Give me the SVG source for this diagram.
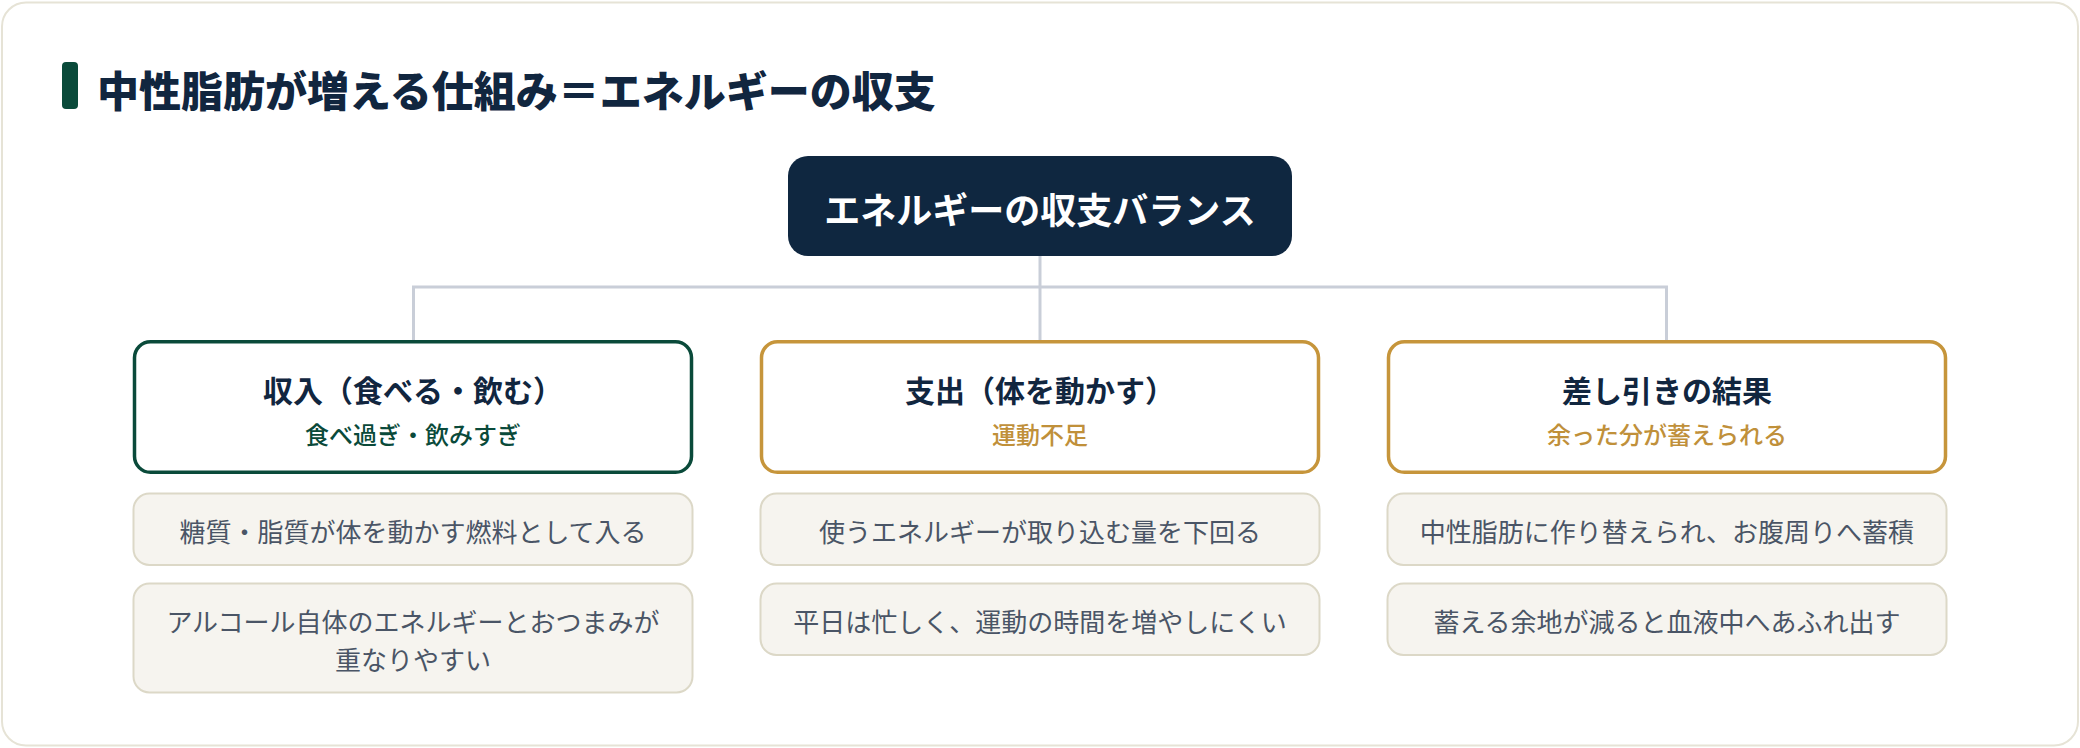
<svg xmlns="http://www.w3.org/2000/svg" width="2080" height="748" viewBox="0 0 2080 748">
  <style>
    text { font-family: "Noto Sans CJK JP", "Noto Sans", sans-serif; dominant-baseline: central; text-anchor: middle; }
    .title { font-size: 42px; font-weight: 900; fill: #11263f; text-anchor: start; }
    .root-box { fill: #0f2740; }
    .root-text { font-size: 36px; font-weight: 700; fill: #ffffff; }
    .card { fill: #ffffff; stroke-width: 3.5; }
    .card-green { stroke: #0a4a3a; }
    .card-gold { stroke: #c6953b; }
    .card-title { font-size: 30px; font-weight: 700; fill: #11263f; }
    .sub { font-size: 24px; font-weight: 500; }
    .sub-green { fill: #0a4a3a; }
    .sub-gold { fill: #c0903a; }
    .detail-box { fill: #f6f4ef; stroke: #dcd8c7; stroke-width: 2; }
    .detail { font-size: 26px; font-weight: 400; fill: #4a5566; }
    .conn { fill: none; stroke: #c9ced8; stroke-width: 3; }
  </style>

  <rect x="2" y="2.5" width="2076" height="743" rx="24" fill="#ffffff" stroke="#e6e3d6" stroke-width="2"/>

  <g id="heading">
    <rect x="62" y="62" width="16" height="47" rx="4" fill="#0a4a3a"/>
    <text class="title" x="97" y="88">中性脂肪が増える仕組み＝エネルギーの収支</text>
  </g>

  <g id="connectors">
    <path class="conn" d="M1040 256 V342"/>
    <path class="conn" d="M413.5 342 V287 H1666.5 V342"/>
  </g>

  <g id="root">
    <rect class="root-box" x="788" y="156" width="504" height="100" rx="20"/>
    <text class="root-text" x="1040" y="208">エネルギーの収支バランス</text>
  </g>

  <g id="income">
    <rect class="card card-green" x="134.5" y="341.8" width="557" height="130.5" rx="16"/>
    <text class="card-title" x="413" y="389">収入（食べる・飲む）</text>
    <text class="sub sub-green" x="413" y="433">食べ過ぎ・飲みすぎ</text>
  </g>

  <g id="expense">
    <rect class="card card-gold" x="761.5" y="341.8" width="557" height="130.5" rx="16"/>
    <text class="card-title" x="1040" y="389">支出（体を動かす）</text>
    <text class="sub sub-gold" x="1040" y="433">運動不足</text>
  </g>

  <g id="result">
    <rect class="card card-gold" x="1388.5" y="341.8" width="557" height="130.5" rx="16"/>
    <text class="card-title" x="1667" y="389">差し引きの結果</text>
    <text class="sub sub-gold" x="1667" y="433">余った分が蓄えられる</text>
  </g>

  <g id="income-detail-1">
    <rect class="detail-box" x="133.5" y="493.5" width="559" height="71.5" rx="16"/>
    <text class="detail" x="413" y="530">糖質・脂質が体を動かす燃料として入る</text>
  </g>
  <g id="income-detail-2">
    <rect class="detail-box" x="133.5" y="583.5" width="559" height="109" rx="16"/>
    <text class="detail" x="413" y="620.5">アルコール自体のエネルギーとおつまみが</text>
    <text class="detail" x="413" y="658">重なりやすい</text>
  </g>

  <g id="expense-detail-1">
    <rect class="detail-box" x="760.5" y="493.5" width="559" height="71.5" rx="16"/>
    <text class="detail" x="1040" y="530">使うエネルギーが取り込む量を下回る</text>
  </g>
  <g id="expense-detail-2">
    <rect class="detail-box" x="760.5" y="583.5" width="559" height="71.5" rx="16"/>
    <text class="detail" x="1040" y="620">平日は忙しく、運動の時間を増やしにくい</text>
  </g>

  <g id="result-detail-1">
    <rect class="detail-box" x="1387.5" y="493.5" width="559" height="71.5" rx="16"/>
    <text class="detail" x="1667" y="530">中性脂肪に作り替えられ、お腹周りへ蓄積</text>
  </g>
  <g id="result-detail-2">
    <rect class="detail-box" x="1387.5" y="583.5" width="559" height="71.5" rx="16"/>
    <text class="detail" x="1667" y="620">蓄える余地が減ると血液中へあふれ出す</text>
  </g>
</svg>
